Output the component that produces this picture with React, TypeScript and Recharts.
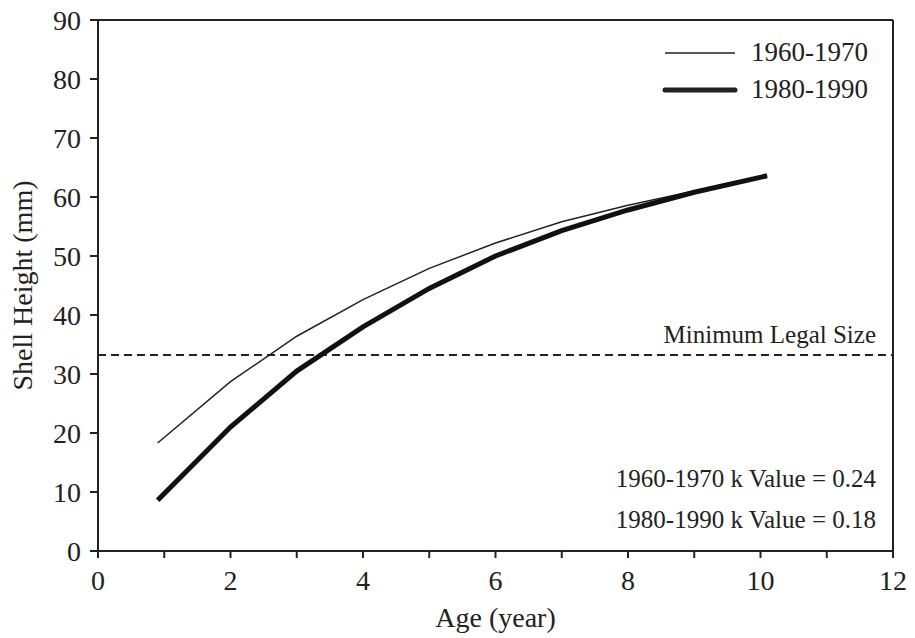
import { LineChart, Line, XAxis, YAxis, ReferenceLine } from 'recharts'

const ages = [0.9, 2, 3, 4, 5, 6, 7, 8, 9, 10.1]
const h1960 = [18.3, 28.7, 36.4, 42.6, 47.9, 52.2, 55.8, 58.6, 61.0, 63.7]
const h1980 = [8.6, 21.0, 30.5, 38.0, 44.5, 50.0, 54.3, 57.8, 60.8, 63.6]
const seriesNames = ['1960-1970', '1980-1990']
const xTicks = [0, 1, 2, 3, 4, 5, 6, 7, 8, 9, 10, 11, 12]
const yTicks = [0, 10, 20, 30, 40, 50, 60, 70, 80, 90]
const minLegalSize = 33.2
const kValues = ['1960-1970 k Value = 0.24', '1980-1990 k Value = 0.18']

const data = ages.map((age, i) => ({ age, a: h1960[i], b: h1980[i] }))

const font = '"Liberation Serif", "DejaVu Serif", serif'
const ink = '#222'

function LegendBox() {
  return (
    <div style={{ position: 'absolute', left: 657, top: 34, fontFamily: font, fontSize: 27, color: ink }}>
      {seriesNames.map((name, i) => (
        <div key={name} style={{ display: 'flex', alignItems: 'center', height: 37 }}>
          <svg width={94} height={12}>
            <line x1={8} y1={6} x2={78} y2={6} stroke={ink} strokeWidth={i === 0 ? 1.5 : 5} strokeLinecap={i === 0 ? 'butt' : 'round'} />
          </svg>
          <span>{name}</span>
        </div>
      ))}
    </div>
  )
}

export default function App() {
  return (
    <div style={{ position: 'absolute', left: 0, top: 0, width: 915, height: 638, background: '#fff' }}>
      <LineChart width={915} height={638} data={data} margin={{ top: 20, right: 22, left: 8, bottom: 7 }}>
        <XAxis
          dataKey="age"
          type="number"
          domain={[0, 12]}
          ticks={xTicks}
          interval={0}
          tickFormatter={(v: number) => (v % 2 === 0 ? String(v) : '')}
          tickSize={7}
          tickMargin={12}
          height={80}
          stroke={ink}
          strokeWidth={2}
          tick={{ fontFamily: font, fontSize: 28, fill: ink }}
          label={{ value: 'Age (year)', position: 'insideBottom', offset: 4, style: { fontFamily: font, fontSize: 28, fill: ink } }}
        />
        <YAxis
          type="number"
          domain={[0, 90]}
          ticks={yTicks}
          interval={0}
          tickSize={8}
          tickMargin={9}
          width={90}
          stroke={ink}
          strokeWidth={2}
          tick={{ fontFamily: font, fontSize: 28, fill: ink }}
          label={{ value: 'Shell Height (mm)', angle: -90, position: 'insideLeft', offset: 14, style: { textAnchor: 'middle', fontFamily: font, fontSize: 28, fill: ink } }}
        />
        <ReferenceLine y={90} stroke={ink} strokeWidth={2} />
        <ReferenceLine x={12} stroke={ink} strokeWidth={2} />
        <ReferenceLine
          y={minLegalSize}
          stroke={ink}
          strokeWidth={2}
          strokeDasharray="8 5"
          label={({ viewBox }: any) => (
            <text x={viewBox.x + viewBox.width - 17} y={viewBox.y - 12} textAnchor="end" fontFamily={font} fontSize={25} fill={ink}>
              Minimum Legal Size
            </text>
          )}
        />
        <ReferenceLine
          y={0}
          stroke="none"
          label={({ viewBox }: any) => (
            <g fontFamily={font} fontSize={25} fill={ink}>
              <text x={viewBox.x + viewBox.width - 17} y={viewBox.y - 64} textAnchor="end">{kValues[0]}</text>
              <text x={viewBox.x + viewBox.width - 17} y={viewBox.y - 23} textAnchor="end">{kValues[1]}</text>
            </g>
          )}
        />
        <Line type="linear" dataKey="a" name={seriesNames[0]} stroke={ink} strokeWidth={1.5} dot={false} isAnimationActive={false} />
        <Line type="linear" dataKey="b" name={seriesNames[1]} stroke="#111" strokeWidth={5} dot={false} isAnimationActive={false} />
      </LineChart>
      <LegendBox />
    </div>
  )
}
